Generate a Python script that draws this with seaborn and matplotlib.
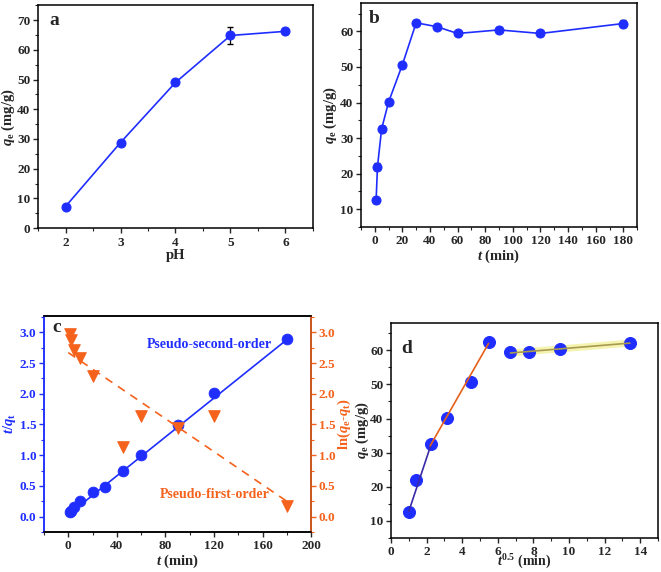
import numpy as np
import pandas as pd
import seaborn as sns
import matplotlib.pyplot as plt
from matplotlib.ticker import MultipleLocator

# --- data ---
ph = [2, 3, 4, 5, 6]
qe_ph = [7.3, 28.8, 49.0, 64.8, 66.2]
qe_ph_err = [0.8, 0.9, 0.8, 2.7, 1.0]

t_min = [1, 2, 5, 10, 20, 30, 45, 60, 90, 120, 180]
qe_t = [12.5, 22.0, 32.6, 40.1, 50.6, 62.4, 61.3, 59.4, 60.4, 59.4, 62.2]
qe_t_err = [0.8, 0.9, 0.8, 0.8, 0.6, 0.7, 0.7, 0.7, 0.7, 0.6, 1.0]

# pseudo-second-order: t/qt
t_qt = [0.08, 0.09, 0.15, 0.25, 0.40, 0.48, 0.74, 1.01, 1.49, 2.02, 2.89]
pso_fit_t = [0, 180]
pso_fit_y = [0.03, 2.88]

# pseudo-first-order: ln(qe-qt)
t_pfo = [1, 2, 5, 10, 20, 45, 60, 90, 120, 180]
ln_pfo = [2.97, 2.87, 2.72, 2.59, 2.29, 1.14, 1.64, 1.44, 1.64, 0.17]
pfo_fit_t = [0, 180]
pfo_fit_y = [2.67, 0.25]

# intraparticle diffusion
t_sqrt = [1.0, 1.41, 2.24, 3.16, 4.47, 5.48, 6.71, 7.75, 9.49, 13.42]
qe_d = [12.5, 22.0, 32.6, 40.1, 50.6, 62.4, 59.4, 59.4, 60.4, 62.2]
seg1_x, seg1_y = [1.0, 2.24], [12.8, 32.2]
seg2_x, seg2_y = [2.2, 5.48], [32.0, 62.0]
seg3_x, seg3_y = [6.71, 13.42], [59.2, 62.1]

BLUE = '#1f2eff'
ORANGE = '#f5621c'

sns.set_style('ticks')
plt.rcParams['font.family'] = ['Liberation Serif', 'DejaVu Serif']
plt.rcParams['font.weight'] = 'bold'
plt.rcParams['axes.labelweight'] = 'bold'
plt.rcParams['mathtext.fontset'] = 'custom'
plt.rcParams['mathtext.rm'] = 'Liberation Serif:bold'
plt.rcParams['mathtext.it'] = 'Liberation Serif:italic:bold'
plt.rcParams['mathtext.bf'] = 'Liberation Serif:bold'
plt.rcParams['axes.linewidth'] = 1.1
plt.rcParams['xtick.major.width'] = 1.0
plt.rcParams['ytick.major.width'] = 1.0
plt.rcParams['xtick.minor.width'] = 0.8
plt.rcParams['ytick.minor.width'] = 0.8
plt.rcParams['xtick.major.size'] = 3.5
plt.rcParams['ytick.major.size'] = 3.5
plt.rcParams['xtick.minor.size'] = 2
plt.rcParams['ytick.minor.size'] = 2
plt.rcParams['xtick.major.pad'] = 2.5
plt.rcParams['ytick.major.pad'] = 2
plt.rcParams['xtick.labelsize'] = 9.5
plt.rcParams['ytick.labelsize'] = 9.5
plt.rcParams['axes.labelsize'] = 10.5
plt.rcParams['axes.edgecolor'] = 'black'

fig = plt.figure(figsize=(6.61, 5.72), dpi=100)
ax_a = fig.add_axes([0.0575, 0.601, 0.416, 0.390])
ax_b = fig.add_axes([0.546, 0.603, 0.418, 0.392])
ax_c = fig.add_axes([0.0666, 0.070, 0.404, 0.378])
ax_d = fig.add_axes([0.5915, 0.0594, 0.404, 0.376])

# a
ax_a.errorbar(ph, qe_ph, yerr=qe_ph_err, fmt='none', ecolor='black', elinewidth=0.9, capsize=2, zorder=2)
sns.lineplot(x=ph, y=qe_ph, ax=ax_a, color=BLUE, lw=1.2, marker='o', markersize=6.5,
             markerfacecolor=BLUE, markeredgecolor=BLUE, zorder=3)
ax_a.set_xlim(1.5, 6.5)
ax_a.set_ylim(0, 75)
ax_a.xaxis.set_major_locator(MultipleLocator(1))
ax_a.xaxis.set_minor_locator(MultipleLocator(0.5))
ax_a.yaxis.set_major_locator(MultipleLocator(10))
ax_a.yaxis.set_minor_locator(MultipleLocator(5))
ax_a.set_xlabel('pH', labelpad=0)
ax_a.set_ylabel(r'$q_\mathrm{e}$ (mg/g)', labelpad=0)
ax_a.text(0.04, 0.93, 'a', transform=ax_a.transAxes, fontsize=14, fontweight='bold', va='center')

# b
ax_b.errorbar(t_min, qe_t, yerr=qe_t_err, fmt='none', ecolor='black', elinewidth=0.9, capsize=2, zorder=2)
sns.lineplot(x=t_min, y=qe_t, ax=ax_b, color=BLUE, lw=1.2, marker='o', markersize=6.5,
             markerfacecolor=BLUE, markeredgecolor=BLUE, zorder=3)
ax_b.set_xlim(-10, 190)
ax_b.set_ylim(5, 68)
ax_b.xaxis.set_major_locator(MultipleLocator(20))
ax_b.xaxis.set_minor_locator(MultipleLocator(10))
ax_b.yaxis.set_major_locator(MultipleLocator(10))
ax_b.yaxis.set_minor_locator(MultipleLocator(5))
ax_b.set_xlabel(r'$t$ (min)', labelpad=0)
ax_b.set_ylabel(r'$q_\mathrm{e}$ (mg/g)', labelpad=1)
ax_b.text(0.03, 0.93, 'b', transform=ax_b.transAxes, fontsize=14, fontweight='bold', va='center')

# c
sns.lineplot(x=pso_fit_t, y=pso_fit_y, ax=ax_c, color=BLUE, lw=1.2, zorder=2)
sns.scatterplot(x=t_min, y=t_qt, ax=ax_c, color=BLUE, s=60, edgecolor=BLUE, zorder=3)
ax_c.set_xlim(-20, 200)
ax_c.set_ylim(-0.25, 3.27)
ax_c.xaxis.set_major_locator(MultipleLocator(40))
ax_c.xaxis.set_minor_locator(MultipleLocator(20))
ax_c.yaxis.set_major_locator(MultipleLocator(0.5))
ax_c.yaxis.set_minor_locator(MultipleLocator(0.25))
ax_c.set_xlabel(r'$t$ (min)', labelpad=0)
ax_c.set_ylabel(r'$t/q_\mathrm{t}$', color=BLUE, labelpad=1)
ax_c.tick_params(axis='y', which='both', colors=BLUE)
ax_c.spines['left'].set_color(BLUE)
ax_c.text(0.03, 0.945, 'c', transform=ax_c.transAxes, fontsize=14, fontweight='bold', va='center')
ax_c.text(116, 2.80, 'Pseudo-second-order', color=BLUE, fontsize=10, ha='center', va='center')

ax_c2 = ax_c.twinx()
sns.lineplot(x=pfo_fit_t, y=pfo_fit_y, ax=ax_c2, color=ORANGE, lw=1.2, dashes=(5, 4), zorder=2)
sns.scatterplot(x=t_pfo, y=ln_pfo, ax=ax_c2, color=ORANGE, marker='v', s=70, edgecolor=ORANGE, zorder=3)
ax_c2.set_ylim(-0.25, 3.27)
ax_c2.yaxis.set_major_locator(MultipleLocator(0.5))
ax_c2.yaxis.set_minor_locator(MultipleLocator(0.25))
ax_c2.set_ylabel(r'ln($q_\mathrm{e}$-$q_\mathrm{t}$)', color=ORANGE, labelpad=0)
ax_c2.tick_params(axis='y', which='both', colors=ORANGE)
ax_c2.spines['right'].set_color(ORANGE)
ax_c2.spines['left'].set_color(BLUE)
ax_c2.text(121, 0.36, 'Pseudo-first-order', color=ORANGE, fontsize=10, ha='center', va='center')

# d
sns.scatterplot(x=t_sqrt, y=qe_d, ax=ax_d, color=BLUE, s=75, edgecolor=BLUE, zorder=2)
ax_d.plot(seg1_x, seg1_y, color='#3a2aa8', lw=1.2, zorder=3)
ax_d.plot(seg2_x, seg2_y, color='#e5601a', lw=1.2, zorder=3)
ax_d.plot(seg3_x, seg3_y, color='#f4f4b0', lw=5, solid_capstyle='butt', zorder=1)
ax_d.plot(seg3_x, seg3_y, color='#a89a50', lw=1.2, zorder=3)
ax_d.set_xlim(0, 15)
ax_d.set_ylim(5, 68)
ax_d.xaxis.set_major_locator(MultipleLocator(2))
ax_d.xaxis.set_minor_locator(MultipleLocator(1))
ax_d.yaxis.set_major_locator(MultipleLocator(10))
ax_d.yaxis.set_minor_locator(MultipleLocator(5))
ax_d.set_xlabel(r'$t^{0.5}$ (min)', fontsize=10)
ax_d.xaxis.set_label_coords(0.5, -0.068)
ax_d.set_ylabel(r'$q_\mathrm{e}$ (mg/g)', labelpad=-0.5)
ax_d.text(0.04, 0.88, 'd', transform=ax_d.transAxes, fontsize=14, fontweight='bold', va='center')

for ax in [ax_a, ax_b, ax_c, ax_d]:
    ax.tick_params(which='both', direction='out')
    for s in ['top', 'right', 'bottom', 'left']:
        ax.spines[s].set_visible(True)

fig.savefig('out.png', dpi=100)
